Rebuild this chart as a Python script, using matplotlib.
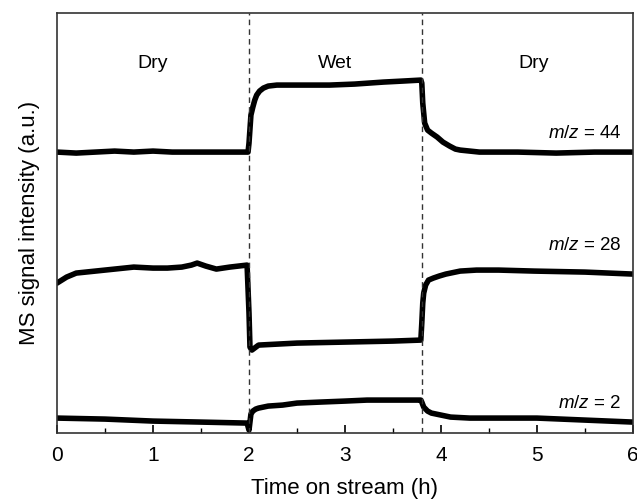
import matplotlib
matplotlib.use('Agg')
import matplotlib.pyplot as plt
import numpy as np

plt.rcParams['font.family'] = ['Liberation Sans', 'DejaVu Sans']
plt.rcParams['mathtext.fontset'] = 'custom'
plt.rcParams['mathtext.it'] = 'Liberation Sans:italic'
plt.rcParams['mathtext.rm'] = 'Liberation Sans'

# time on stream (h) and signal (a.u.)
t44 = [0, 0.2, 0.4, 0.6, 0.8, 1.0, 1.2, 1.4, 1.6, 1.8, 1.99, 2.0, 2.02, 2.04, 2.06, 2.08, 2.11, 2.15, 2.2, 2.29,
       2.53, 2.84, 3.1, 3.4, 3.6, 3.79, 3.8, 3.81, 3.83, 3.86, 3.9, 3.96, 4.02, 4.09, 4.15, 4.2, 4.3, 4.4,
       4.8, 5.2, 5.6, 6.0]
v44 = [281, 280, 281, 282, 281, 282, 281, 281, 281, 281, 281, 290, 318, 326, 333, 338, 342, 345, 347, 348,
       348, 348, 349, 351, 352, 353, 350, 330, 310, 303, 300, 296, 291, 287, 284, 283, 282, 281,
       281, 280, 281, 281]

t28 = [0, 0.05, 0.1, 0.2, 0.4, 0.6, 0.8, 1.0, 1.15, 1.3, 1.4, 1.46, 1.55, 1.66, 1.8, 1.98, 2.0, 2.01, 2.03,
       2.1, 2.5, 3.0, 3.5, 3.79, 3.8, 3.81, 3.82, 3.84, 3.87, 3.92, 3.98, 4.05, 4.1, 4.2, 4.37, 4.6, 4.97,
       5.5, 6.0]
v28 = [150, 153, 156, 160, 162, 164, 166, 165, 165, 166, 168, 170, 167, 164, 166, 168, 120, 86, 83,
       88, 90, 91, 92, 93, 110, 130, 140, 148, 153, 155, 157, 159, 160, 162, 163, 163, 162,
       161, 159]

t2 = [0, 0.5, 1.0, 1.5, 1.98, 2.0, 2.02, 2.04, 2.07, 2.1, 2.2, 2.35, 2.5, 2.74, 3.0, 3.23, 3.6, 3.79, 3.8,
      3.82, 3.86, 3.9, 4.0, 4.1, 4.3, 4.5, 5.0, 5.5, 6.0]
v2 = [15, 14, 12, 11, 10, 3, 19, 22, 24, 25, 27, 28, 30, 31, 32, 33, 33, 33, 31,
      26, 22, 20, 18, 16, 15, 15, 15, 13, 11]

switch_times = [2.0, 3.8]
regions = ['Dry', 'Wet', 'Dry']
region_x = [1.0, 2.9, 4.97]
mz_labels = ['$m/z$ = 44', '$m/z$ = 28', '$m/z$ = 2']
mz_y = [300, 188, 30]

fig = plt.figure(figsize=(6.37, 5.03), dpi=100)
ax = fig.add_axes([0.0895, 0.139, 0.9042, 0.835])

for t, v in [(t44, v44), (t28, v28), (t2, v2)]:
    ax.plot(t, v, color='black', linewidth=4.0, solid_joinstyle='round', solid_capstyle='round')

for s in switch_times:
    ax.axvline(s, color='#333333', linestyle='--', linewidth=1.0, dashes=(4, 3))

for name, x in zip(regions, region_x):
    ax.text(x, 370, name, ha='center', va='center', fontsize=14,
            family=['Liberation Sans Narrow', 'Liberation Sans'])

for lab, y in zip(mz_labels, mz_y):
    ax.text(5.88, y, lab, ha='right', va='center', fontsize=13.5)

ax.set_xlim(0, 6)
ax.set_ylim(0, 420)
ax.set_xticks(np.arange(0, 7, 1))
ax.set_xticks(np.arange(0.5, 6, 1), minor=True)
ax.set_yticks([])
ax.tick_params(axis='x', which='major', direction='in', length=6, width=1.2, labelsize=15, pad=9)
ax.tick_params(axis='x', which='minor', direction='in', length=3.5, width=1.0)
for sp in ax.spines.values():
    sp.set_linewidth(1.2)
    sp.set_color('#333333')

ax.set_xlabel('Time on stream (h)', fontsize=16, labelpad=10)
ax.set_ylabel('MS signal intensity (a.u.)', fontsize=16, labelpad=12)

plt.savefig('out.png', dpi=100)
plt.close()
